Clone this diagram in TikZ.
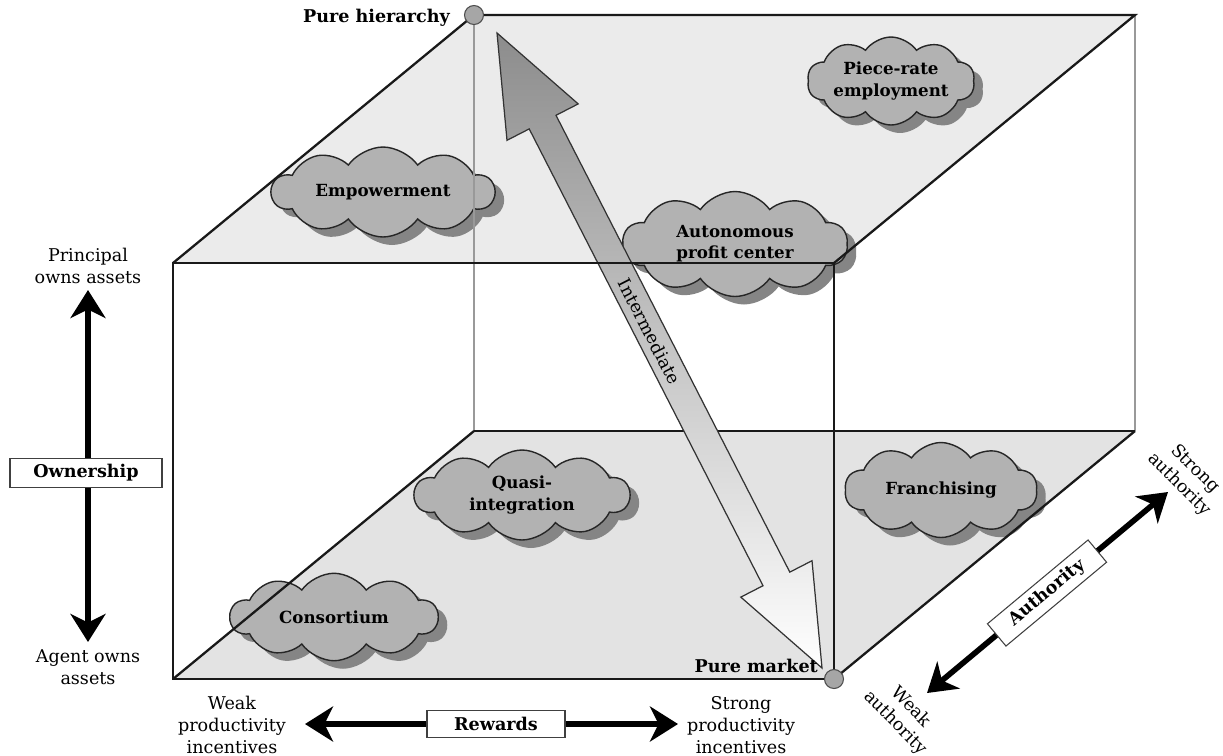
\documentclass[tikz,border=0pt]{standalone}
\usepackage{fontspec}
\setmainfont{DejaVu Serif}
\usetikzlibrary{arrows.meta, shapes.symbols, shadows}
\tikzset{
  bigtip/.tip={Stealth[length=0.56cm, width=0.7cm, inset=0.17cm]},
  edge/.style={line width=1.3pt, black!90},
  backedge/.style={line width=1pt, black!40},
  topface/.style={fill=black!8},
  bottomface/.style={fill=black!11},
  blob/.style={cloud, cloud puffs=10, cloud puff arc=110, cloud ignores aspect, draw=black!85, line width=0.8pt,
    fill=black!30, align=center, inner sep=0pt, font=\bfseries\fontsize{9.5}{12}\selectfont,
    drop shadow={shadow xshift=0.18cm, shadow yshift=-0.16cm, fill=black!48, opacity=1}},
  axisarrow/.style={line width=3.2pt, bigtip-bigtip},
  axisbox/.style={draw=black!75, fill=white, line width=0.6pt, minimum height=0.54cm,
    font=\bfseries\fontsize{10}{12}\selectfont},
  endlabel/.style={align=center, font=\fontsize{10}{12.5}\selectfont},
  corner/.style={circle, draw=black!70, fill=black!35, line width=0.6pt, minimum size=0.38cm, inner sep=0pt},
  bigarrow/.style={draw=black!80, line width=0.7pt, top color=black!45, bottom color=white}
}

\begin{document}
\begin{tikzpicture}[x=0.02cm, y=-0.02cm]
\useasboundingbox (0,0) rectangle (1223,755);
% cube corners
\coordinate (ftl) at (173,263);
\coordinate (ftr) at (834,263);
\coordinate (fbl) at (173,679);
\coordinate (fbr) at (834,679);
\coordinate (btl) at (474,15);
\coordinate (btr) at (1135,15);
\coordinate (bbl) at (474,431);
\coordinate (bbr) at (1135,431);
\fill[topface] (ftl)--(btl)--(btr)--(ftr)--cycle;
\fill[bottomface] (fbl)--(bbl)--(bbr)--(fbr)--cycle;

% clouds
\node[blob, minimum width=4.45cm, minimum height=1.8cm] (empow) at (383,192) {Empowerment};
\node[blob, minimum width=3.35cm, minimum height=1.76cm] (piece) at (891,81) {Piece-rate\\employment};
\node[blob, minimum width=4.5cm, minimum height=2.1cm] (auto) at (735,244) {Autonomous\\profit center};
\node[blob, minimum width=4.3cm, minimum height=1.8cm] (quasi) at (522,495) {Quasi-\\integration};
\node[blob, minimum width=3.85cm, minimum height=1.9cm] (franch) at (941,490) {Franchising};
\node[blob, minimum width=4.15cm, minimum height=1.75cm] (consort) at (334,617) {Consortium};

\draw[backedge] (btl)--(bbl) (btr)--(bbr);
\draw[edge] (bbl)--(bbr);

% hierarchy to market arrow
\draw[bigarrow] (497,33) -- (578.2,103.9) -- (556.0,115.3) -- (789.8,572.1) -- (812.0,560.7)
  -- (822,668) -- (740.8,597.1) -- (763.0,585.7) -- (529.2,128.9) -- (507.0,140.3) -- cycle;
\coordinate (htip) at (497,33);
\coordinate (mtip) at (822,668);
\path (htip) -- (mtip) node[pos=0.47, sloped, endlabel] (inter) {Intermediate};

% front edges
\draw[edge] (ftl)--(ftr)--(fbr)--(fbl)--cycle;
\draw[edge] (ftl)--(btl)--(btr)--(ftr);
\draw[edge] (fbl)--(bbl) (fbr)--(bbr);
\node[corner] (hier) at (btl) {};
\node[corner] (mkt) at (fbr) {};
\node[anchor=east, font=\bfseries\fontsize{10}{12}\selectfont] (hierlab) at (456,18) {Pure hierarchy};
\node[anchor=east, font=\bfseries\fontsize{10}{12}\selectfont] (mktlab) at (824,666) {Pure market};

% ownership
\coordinate (ownhi) at (88,290);
\coordinate (ownlo) at (88,642);
\draw[axisarrow] (ownhi) -- (ownlo);
\node[axisbox, minimum width=3.04cm] (own) at (86,473) {Ownership};
\node[endlabel] (princ) at (88,266) {Principal\\owns assets};
\node[endlabel] (agent) at (88,667) {Agent owns\\assets};

% rewards
\coordinate (rewlo) at (305,724);
\coordinate (rewhi) at (678,724);
\draw[axisarrow] (rewlo) -- (rewhi);
\node[axisbox, minimum width=2.76cm] (rew) at (496,724) {Rewards};
\node[endlabel] (weakinc) at (232,725) {Weak\\productivity\\incentives};
\node[endlabel] (stronginc) at (741,725) {Strong\\productivity\\incentives};

% authority
\coordinate (authlo) at (927,693);
\coordinate (authhi) at (1168,492);
\draw[axisarrow] (authlo) -- (authhi);
\node[axisbox, minimum width=2.62cm, rotate=39.8] (auth) at (1047,593) {Authority};
\node[endlabel, rotate=-45] (strongauth) at (1187,477) {Strong\\authority};
\node[endlabel, rotate=-45] (weakauth) at (903,715) {Weak\\authority};
\end{tikzpicture}
\end{document}
